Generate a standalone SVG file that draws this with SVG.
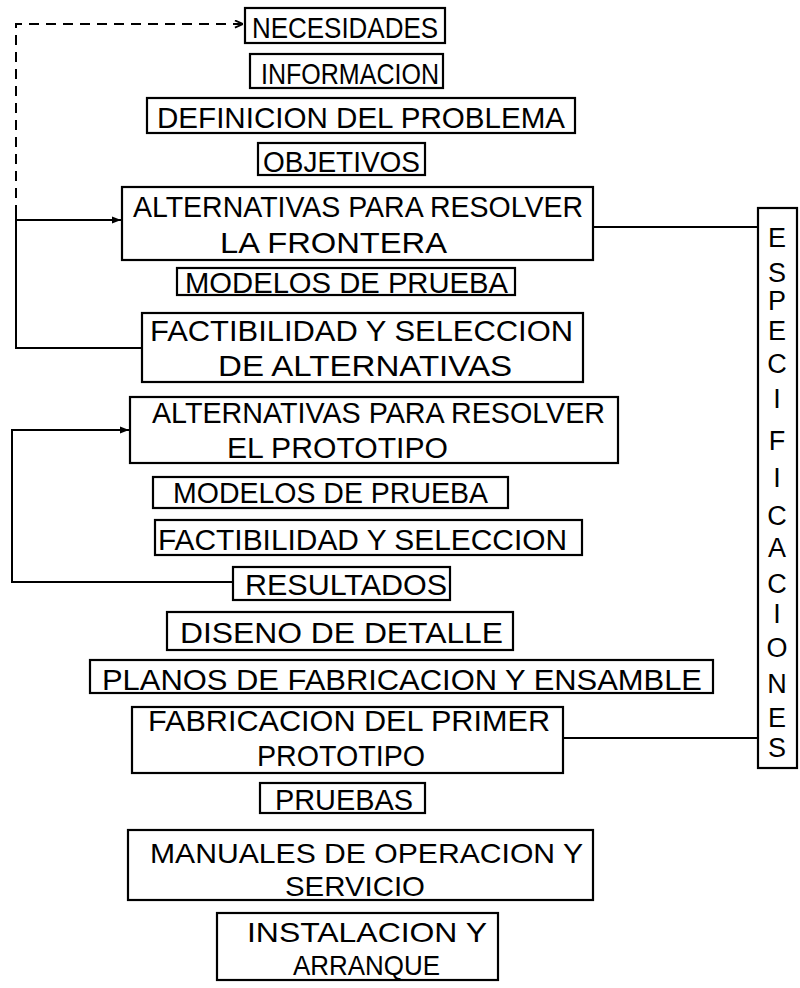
<svg xmlns="http://www.w3.org/2000/svg" width="800" height="988" viewBox="0 0 800 988">
<style>
.b{fill:none;stroke:#000;stroke-width:2.2}
.t{font-family:"Liberation Sans",Arial,sans-serif;font-size:30px;fill:#000}
.s{font-family:"Liberation Sans",Arial,sans-serif;font-size:28px;fill:#000}
.v{font-family:"Liberation Sans",Arial,sans-serif;font-size:27px;fill:#000;text-anchor:middle}
.c{fill:none;stroke:#000;stroke-width:2}
.d{fill:none;stroke:#000;stroke-width:2;stroke-dasharray:10,7}
</style>
<defs>
<marker id="ah" viewBox="0 0 10 10" refX="10" refY="5" markerWidth="11" markerHeight="9" orient="auto" markerUnits="userSpaceOnUse">
<path d="M0,1 L10,5 L0,9 Z" fill="#000"/>
</marker>
<marker id="oh" viewBox="0 0 10 10" refX="10" refY="5" markerWidth="9" markerHeight="9" orient="auto" markerUnits="userSpaceOnUse">
<path d="M1,1 L10,5 L1,9" fill="none" stroke="#000" stroke-width="2"/>
</marker>
</defs>
<rect width="800" height="988" fill="#fff"/>
<g id="connectors">
<path class="d" d="M16,215 V24 H243" marker-end="url(#oh)"/>
<path class="c" d="M16,213 V348 H142"/>
<path class="c" d="M16,220 H121" marker-end="url(#ah)"/>
<path class="c" d="M593,227 H758"/>
<path class="c" d="M233,582 H12 V430 H129" marker-end="url(#ah)"/>
<path class="c" d="M563,738 H758"/>
</g>
<g id="n1"><rect class="b" x="245" y="8" width="200" height="35"/><text class="t" x="252" y="38" textLength="186" lengthAdjust="spacingAndGlyphs">NECESIDADES</text></g>
<g id="n2"><rect class="b" x="250" y="54" width="193" height="34"/><text class="t" x="261" y="84" textLength="178" lengthAdjust="spacingAndGlyphs">INFORMACION</text></g>
<g id="n3"><rect class="b" x="147" y="98" width="428" height="35"/><text class="t" x="157" y="128" textLength="408" lengthAdjust="spacingAndGlyphs">DEFINICION DEL PROBLEMA</text></g>
<g id="n4"><rect class="b" x="258" y="143" width="167" height="32"/><text class="t" x="263" y="172" textLength="157" lengthAdjust="spacingAndGlyphs">OBJETIVOS</text></g>
<g id="n5"><rect class="b" x="122" y="187" width="471" height="73"/><text class="t" x="133" y="217" textLength="450" lengthAdjust="spacingAndGlyphs">ALTERNATIVAS PARA RESOLVER</text><text class="t" x="220" y="253" textLength="227" lengthAdjust="spacingAndGlyphs">LA FRONTERA</text></g>
<g id="n6"><rect class="b" x="177" y="268" width="338" height="27"/><text class="t" x="185" y="293" textLength="323" lengthAdjust="spacingAndGlyphs">MODELOS DE PRUEBA</text></g>
<g id="n7"><rect class="b" x="142" y="313" width="441" height="69"/><text class="t" x="150" y="341" textLength="423" lengthAdjust="spacingAndGlyphs">FACTIBILIDAD Y SELECCION</text><text class="t" x="218" y="376" textLength="294" lengthAdjust="spacingAndGlyphs">DE ALTERNATIVAS</text></g>
<g id="n8"><rect class="b" x="130" y="397" width="488" height="66"/><text class="t" x="152" y="423" textLength="453" lengthAdjust="spacingAndGlyphs">ALTERNATIVAS PARA RESOLVER</text><text class="t" x="227" y="458" textLength="221" lengthAdjust="spacingAndGlyphs">EL PROTOTIPO</text></g>
<g id="n9"><rect class="b" x="153" y="477" width="355" height="31"/><text class="t" x="173" y="503" textLength="315" lengthAdjust="spacingAndGlyphs">MODELOS DE PRUEBA</text></g>
<g id="n10"><rect class="b" x="155" y="520" width="427" height="35"/><text class="t" x="158" y="550" textLength="409" lengthAdjust="spacingAndGlyphs">FACTIBILIDAD Y SELECCION</text></g>
<g id="n11"><rect class="b" x="233" y="567" width="217" height="33"/><text class="t" x="245" y="595" textLength="202" lengthAdjust="spacingAndGlyphs">RESULTADOS</text></g>
<g id="n12"><rect class="b" x="167" y="612" width="346" height="38"/><text class="t" x="180" y="643" textLength="323" lengthAdjust="spacingAndGlyphs">DISENO DE DETALLE</text></g>
<g id="n13"><rect class="b" x="90" y="660" width="623" height="33"/><text class="t" x="102" y="690" textLength="600" lengthAdjust="spacingAndGlyphs">PLANOS DE FABRICACION Y ENSAMBLE</text></g>
<g id="n14"><rect class="b" x="132" y="707" width="431" height="66"/><text class="t" x="148" y="731" textLength="402" lengthAdjust="spacingAndGlyphs">FABRICACION DEL PRIMER</text><text class="t" x="257" y="766" textLength="168" lengthAdjust="spacingAndGlyphs">PROTOTIPO</text></g>
<g id="n15"><rect class="b" x="260" y="783" width="165" height="30"/><text class="t" x="275" y="810" textLength="138" lengthAdjust="spacingAndGlyphs">PRUEBAS</text></g>
<g id="n16"><rect class="b" x="128" y="830" width="465" height="70"/><text class="s" x="150" y="863" textLength="433" lengthAdjust="spacingAndGlyphs">MANUALES DE OPERACION Y</text><text class="s" x="285" y="896" textLength="140" lengthAdjust="spacingAndGlyphs">SERVICIO</text></g>
<g id="n17"><rect class="b" x="217" y="913" width="281" height="67"/><text class="s" x="247" y="942" textLength="240" lengthAdjust="spacingAndGlyphs">INSTALACION Y</text><text class="s" x="293" y="975" textLength="147" lengthAdjust="spacingAndGlyphs">ARRANQUE</text></g>
<g id="n18"><rect class="b" x="758" y="208" width="39" height="560"/>
<text class="v" x="777" y="247">E</text>
<text class="v" x="777" y="282">S</text>
<text class="v" x="777" y="310">P</text>
<text class="v" x="777" y="340">E</text>
<text class="v" x="777" y="373">C</text>
<text class="v" x="777" y="408">I</text>
<text class="v" x="777" y="450">F</text>
<text class="v" x="777" y="487">I</text>
<text class="v" x="777" y="525">C</text>
<text class="v" x="777" y="557">A</text>
<text class="v" x="777" y="593">C</text>
<text class="v" x="777" y="623">I</text>
<text class="v" x="777" y="657">O</text>
<text class="v" x="777" y="693">N</text>
<text class="v" x="777" y="727">E</text>
<text class="v" x="777" y="757">S</text>
</g>
</svg>
